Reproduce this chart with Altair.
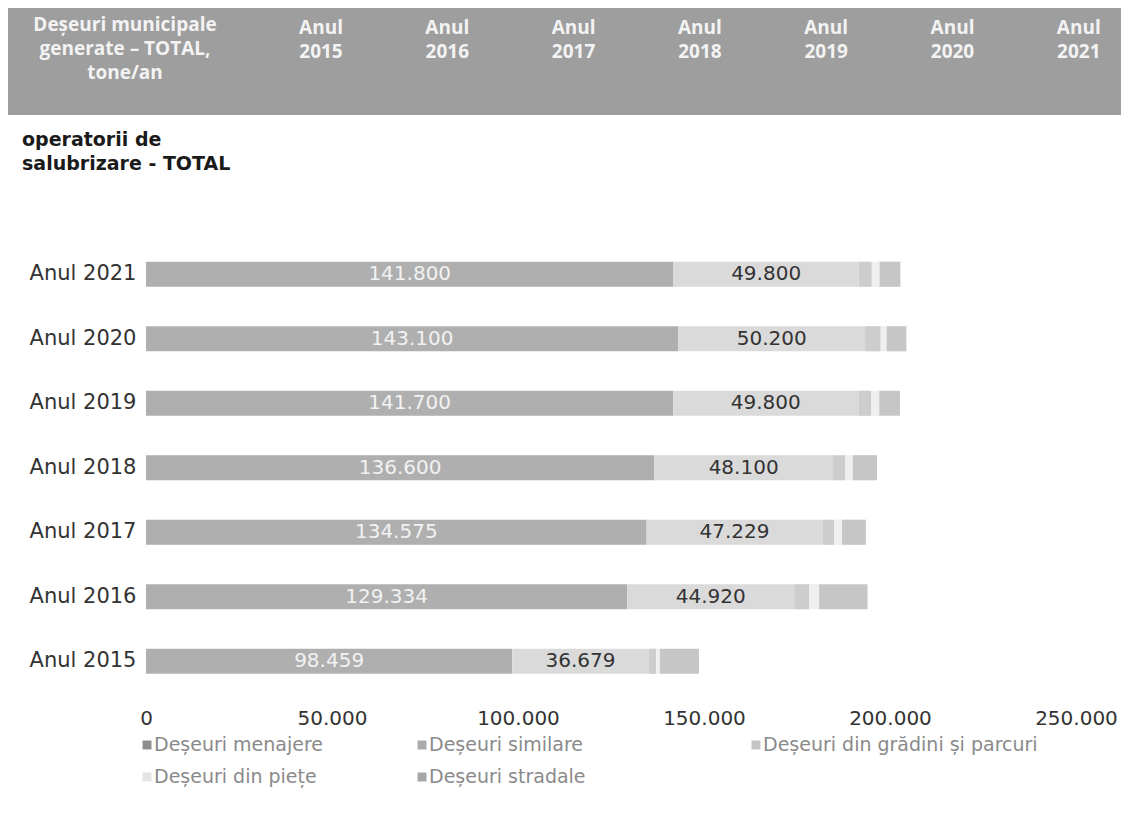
import altair as alt
import pandas as pd

# ---------------- data ----------------
years = ["Anul 2015", "Anul 2016", "Anul 2017", "Anul 2018", "Anul 2019", "Anul 2020", "Anul 2021"]
series = ["Deșeuri menajere", "Deșeuri similare", "Deșeuri din grădini și parcuri",
          "Deșeuri din piețe", "Deșeuri stradale"]
menajere = [98459, 129334, 134575, 136600, 141700, 143100, 141800]
similare = [36679, 44920, 47229, 48100, 49800, 50200, 49800]
gradini = [2000, 4000, 3200, 3300, 3500, 4200, 3500]
piete = [1000, 2700, 2100, 2000, 2100, 1600, 2100]
stradale = [10500, 13000, 6400, 6500, 5600, 5300, 5600]
header_left = "Deșeuri municipale\ngenerate – TOTAL,\ntone/an"
header_years = ["Anul\n2015", "Anul\n2016", "Anul\n2017", "Anul\n2018", "Anul\n2019", "Anul\n2020", "Anul\n2021"]
subtitle = "operatorii de\nsalubrizare - TOTAL"
tick_values = [0, 50000, 100000, 150000, 200000, 250000]

colors = ["#afafaf", "#dadada", "#cdcdcd", "#efefef", "#c6c6c6"]
legend_colors = ["#8e8e8e", "#ababab", "#c4c4c4", "#e4e4e4", "#a6a6a6"]

rows = []
for s_idx, (name, vals) in enumerate(zip(series, [menajere, similare, gradini, piete, stradale])):
    for y, v in zip(years, vals):
        rows.append({"year": y, "series": name, "sidx": s_idx, "value": v})
df = pd.DataFrame(rows)

FONT = "DejaVu Sans"
fmt = "replace(format(datum.value, ','), ',', '.')"
ysort = years[::-1]

yenc = alt.Y("year:N", sort=ysort, title=None,
             scale=alt.Scale(paddingInner=0.61, paddingOuter=0.305),
             axis=alt.Axis(domain=False, ticks=False, labelFontSize=21, labelFont=FONT,
                           labelColor="#333333", labelPadding=10))

bars = alt.Chart(df).mark_bar().encode(
    x=alt.X("value:Q", stack="zero", title=None,
            scale=alt.Scale(domain=[0, 250000], nice=False),
            axis=alt.Axis(values=tick_values, labelExpr=fmt, domain=False, ticks=False,
                          grid=False, labelFontSize=20, labelFont=FONT, labelColor="#333333",
                          labelPadding=15, labelFlush=False)),
    y=yenc,
    color=alt.Color("series:N", sort=series,
                    scale=alt.Scale(domain=series, range=colors), legend=None),
    order=alt.Order("sidx:Q", sort="ascending"),
)

stacked = alt.Chart(df).transform_stack(
    stack="value", groupby=["year"], as_=["x0", "x1"],
    sort=[alt.SortField("sidx", order="ascending")]
).transform_calculate(mid="(datum.x0 + datum.x1) / 2", lab=fmt)

lab_men = stacked.transform_filter("datum.sidx == 0").mark_text(
    fontSize=20, font=FONT, color="#f2f2f2").encode(
    x=alt.X("mid:Q"), y=alt.Y("year:N", sort=ysort), text="lab:N")
lab_sim = stacked.transform_filter("datum.sidx == 1").mark_text(
    fontSize=20, font=FONT, color="#333333").encode(
    x=alt.X("mid:Q"), y=alt.Y("year:N", sort=ysort), text="lab:N")

# ---------------- decorations (header band, texts, legend) ----------------
one = pd.DataFrame({"k": [0]})
band = alt.Chart(one).mark_rect(color="#9e9e9e").encode(
    x=alt.value(-138), x2=alt.value(975), y=alt.value(-234), y2=alt.value(-127))

hdr_layers = [alt.Chart(one).mark_text(
    text=header_left, lineBreak="\n", lineHeight=24, font="Open Sans", fontWeight="bold",
    fontSize=19, color="#f3f3f3", align="center", baseline="middle").encode(
    x=alt.value(-21), y=alt.value(-217))]
for i, t in enumerate(header_years):
    hdr_layers.append(alt.Chart(one).mark_text(
        text=t, lineBreak="\n", lineHeight=24, font="Open Sans", fontWeight="bold",
        fontSize=19, color="#f3f3f3", align="center", baseline="middle").encode(
        x=alt.value(175 + 126.3 * i), y=alt.value(-214)))

sub = alt.Chart(one).mark_text(
    text=subtitle, lineBreak="\n", lineHeight=24, font=FONT, fontWeight="bold",
    fontSize=19, color="#1a1a1a", align="left", baseline="middle").encode(
    x=alt.value(-124), y=alt.value(-102))

# legend: two rows, three columns
col_x = [-3, 272, 606]
row_y = [503, 535]
leg_layers = []
for i, name in enumerate(series):
    cx = col_x[i % 3]
    ry = row_y[i // 3]
    leg_layers.append(alt.Chart(one).mark_square(size=80, color=legend_colors[i], opacity=1).encode(
        x=alt.value(cx + 4), y=alt.value(ry)))
    leg_layers.append(alt.Chart(one).mark_text(
        text=name, font=FONT, fontSize=19, color="#8a8a8a", align="left", baseline="middle").encode(
        x=alt.value(cx + 11), y=alt.value(ry)))

chart = alt.layer(band, *hdr_layers, sub, bars, lab_men, lab_sim, *leg_layers).properties(
    width=930, height=451.5,
    autosize=alt.AutoSizeParams(type="none"),
    padding={"left": 138, "top": 234, "right": 47, "bottom": 110},
    background="white",
).configure_view(stroke=None, strokeWidth=0)

chart.save("out.html", embed_options={"renderer": "svg", "actions": False})
